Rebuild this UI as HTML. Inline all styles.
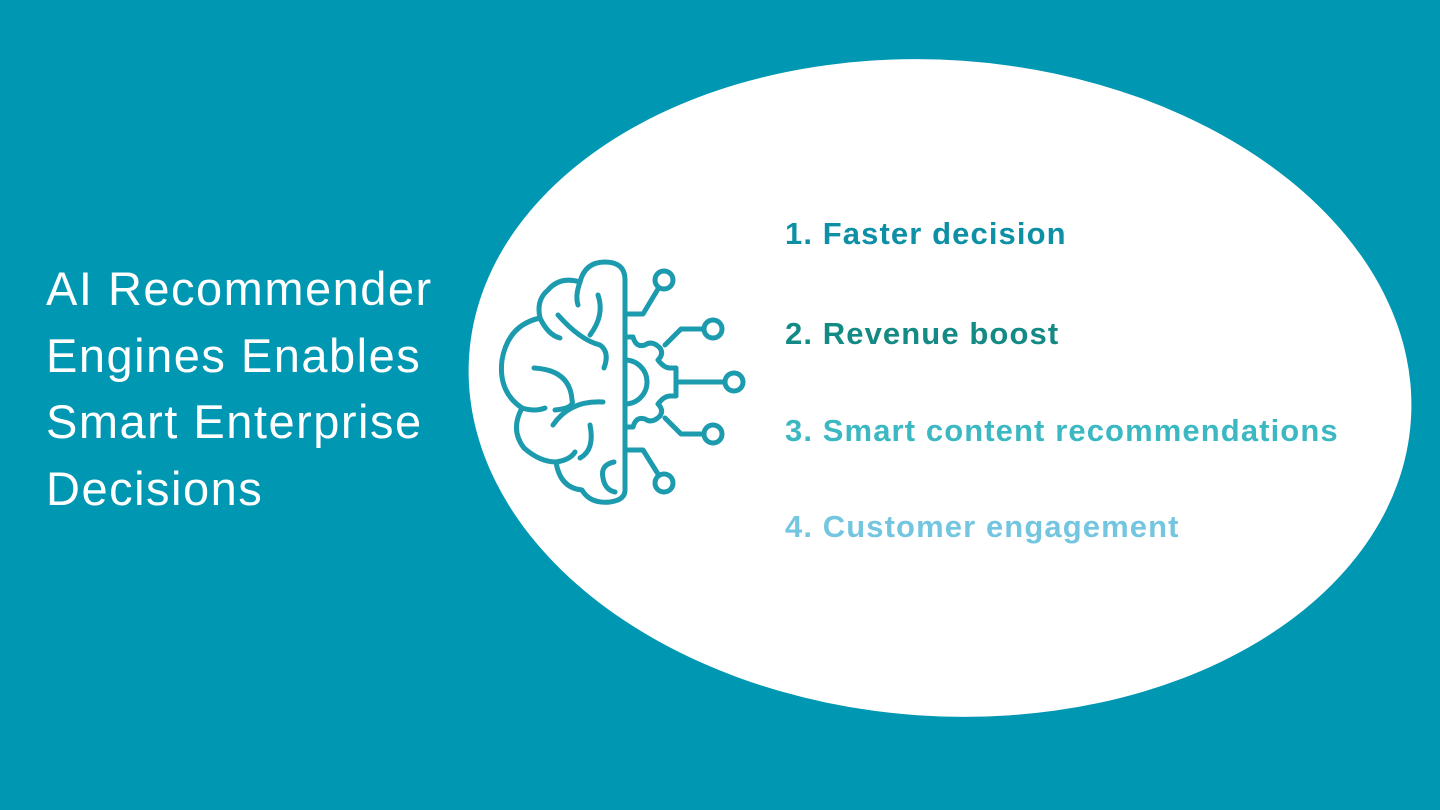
<!DOCTYPE html>
<html><head><meta charset="utf-8"><style>
html,body{margin:0;padding:0}
body{width:1440px;height:810px;background:#0097b2;position:relative;overflow:hidden;font-family:"Liberation Sans",sans-serif}
.title{position:absolute;left:46px;top:256px;color:#fff;font-size:47px;letter-spacing:1.5px;line-height:66.5px;white-space:nowrap}
.item{position:absolute;left:785px;font-weight:bold;font-size:31px;letter-spacing:1.1px;white-space:nowrap}
</style></head><body>
<svg width="1440" height="810" style="position:absolute;left:0;top:0">
<ellipse cx="940" cy="388" rx="472" ry="328" transform="rotate(4 940 388)" fill="#fff"/>
<g fill="none" stroke="#1c9aae" stroke-width="5" stroke-linecap="round" stroke-linejoin="round">
<path d="M625 490 V280 Q625 262 605 262 Q585 262 580 282 Q560 276 548 290 Q536 300 540 318 Q508 325 502 360 Q498 392 522 408 Q510 430 524 448 Q540 462 556 462 Q560 488 582 490 Q590 504 610 502 Q625 500 625 490"/>
<path d="M580 282 Q575 296 578 305"/>
<path d="M540 318 Q548 335 560 338"/>
<path d="M598 295 Q605 315 590 335"/>
<path d="M558 315 Q580 340 600 345 Q610 352 604 368"/>
<path d="M534 368 Q570 370 572 400 Q575 408 555 410"/>
<path d="M522 408 Q535 412 545 408"/>
<path d="M553 425 Q570 400 603 402"/>
<path d="M590 425 Q595 450 580 458"/>
<path d="M556 462 Q570 460 575 452"/>
<path d="M614 462 Q600 465 603 478 Q605 490 615 492"/>
<circle cx="664" cy="280" r="9"/>
<circle cx="713" cy="329" r="9"/>
<circle cx="734" cy="382" r="9"/>
<circle cx="713" cy="434" r="9"/>
<circle cx="664" cy="483" r="9"/>
<path d="M625 314 H643 L658 289"/>
<path d="M665 345 L681 329 H704"/>
<path d="M676 382 H725"/>
<path d="M665 418 L681 434 H704"/>
<path d="M625 450 H643 L658 474"/>
<path d="M625 337 H633 Q636 348 645 345 Q652 340 660 348 Q664 354 658 360 Q664 368 670 368 H676 V396 H670 Q664 396 658 404 Q664 410 660 416 Q652 424 645 419 Q636 416 633 427 H625"/>
<path d="M625 360 A22 22 0 0 1 625 404"/>
</g>
</svg>
<div class="title">AI Recommender<br>Engines Enables<br>Smart Enterprise<br>Decisions</div>
<div class="item" style="top:216px;color:#0d8fa6">1. Faster decision</div>
<div class="item" style="top:316px;color:#148a85">2. Revenue boost</div>
<div class="item" style="top:413px;color:#3cb8c2">3. Smart content recommendations</div>
<div class="item" style="top:509px;color:#74c6e0">4. Customer engagement</div>
</body></html>
